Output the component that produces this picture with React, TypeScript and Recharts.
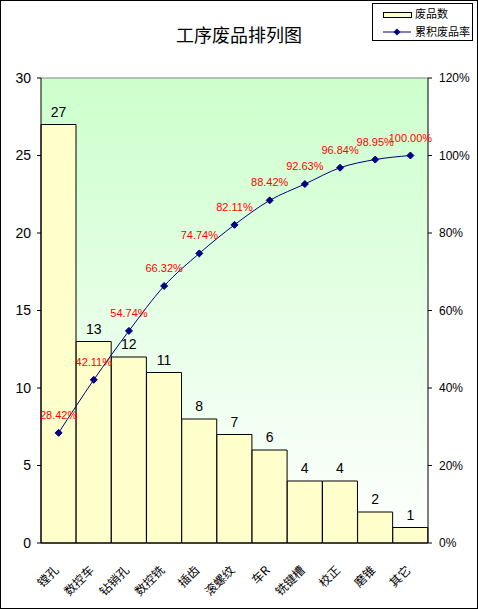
import React from "react";
import {
  ComposedChart,
  Bar,
  Line,
  XAxis,
  YAxis,
  CartesianGrid,
  LabelList,
  ReferenceLine,
} from "recharts";

const processes = ["镗孔", "数控车", "钻销孔", "数控铣", "插齿", "滚螺纹", "车R", "铣键槽", "校正", "磨锥", "其它"];
const rejects = [27, 13, 12, 11, 8, 7, 6, 4, 4, 2, 1];
const cumulativePct = [28.42, 42.11, 54.74, 66.32, 74.74, 82.11, 88.42, 92.63, 96.84, 98.95, 100.0];
const countTicks = [0, 5, 10, 15, 20, 25, 30];
const pctTicks = [0, 20, 40, 60, 80, 100, 120];

const data = processes.map((name, i) => ({ name, count: rejects[i], pct: cumulativePct[i] }));

const CJK = '"Noto Sans CJK SC", "Noto Sans", sans-serif';
const LATIN = '"Liberation Sans", Arial, sans-serif';

function Diamond(props: any) {
  const { cx, cy } = props;
  if (cx == null || cy == null) return null;
  const r = 3.5;
  return (
    <polygon
      points={`${cx},${cy - r} ${cx + r},${cy} ${cx},${cy + r} ${cx - r},${cy}`}
      fill="#000080"
      stroke="#000080"
    />
  );
}

function CategoryTick(props: any) {
  const { x, y, payload } = props;
  const tx = x + 1;
  const ty = y + 20;
  return (
    <text
      x={tx}
      y={ty}
      textAnchor="end"
      fontSize={12}
      fontFamily={CJK}
      fill="#000"
      transform={`rotate(-45, ${tx}, ${ty})`}
    >
      {payload.value}
    </text>
  );
}

export default function App() {
  return (
    <div style={{ position: "relative", width: 478, height: 609, background: "#fff" }}>
      <style>{"body{margin:0}"}</style>
      <ComposedChart
        width={478}
        height={609}
        data={data}
        margin={{ top: 78, right: 0, bottom: 0, left: 0 }}
        barCategoryGap={0}
      >
        <defs>
          <linearGradient id="plotBg" x1="0" y1="0" x2="0" y2="1">
            <stop offset="0%" stopColor="#ccffcc" />
            <stop offset="100%" stopColor="#ffffff" />
          </linearGradient>
        </defs>
        <CartesianGrid horizontal={false} vertical={false} fill="url(#plotBg)" stroke="none" />
        <XAxis
          dataKey="name"
          interval={0}
          height={66}
          tickLine={false}
          axisLine={{ stroke: "#000" }}
          tick={<CategoryTick />}
        />
        <YAxis
          yAxisId="count"
          domain={[0, 30]}
          ticks={countTicks}
          width={41}
          tickSize={4}
          tickMargin={6}
          axisLine={{ stroke: "#000" }}
          tickLine={{ stroke: "#000" }}
          tick={{ fill: "#000", fontSize: 14, fontFamily: LATIN }}
        />
        <YAxis
          yAxisId="pct"
          orientation="right"
          domain={[0, 120]}
          ticks={pctTicks}
          width={50}
          tickSize={4}
          tickMargin={7}
          axisLine={{ stroke: "#000" }}
          tickLine={{ stroke: "#000" }}
          tickFormatter={(v) => `${v}%`}
          tick={{ fill: "#000", fontSize: 12, fontFamily: LATIN }}
        />
        <ReferenceLine yAxisId="count" y={30} stroke="#808080" />
        <Bar
          yAxisId="count"
          dataKey="count"
          fill="#ffffcc"
          stroke="#000"
          strokeWidth={1}
          isAnimationActive={false}
        >
          <LabelList
            dataKey="count"
            position="top"
            offset={8}
            fill="#000"
            fontSize={14}
            fontFamily={LATIN}
          />
        </Bar>
        <Line
          yAxisId="pct"
          dataKey="pct"
          type="monotone"
          stroke="#000080"
          strokeWidth={1}
          dot={<Diamond />}
          activeDot={false}
          isAnimationActive={false}
        >
          <LabelList
            dataKey="pct"
            position="top"
            offset={14}
            fill="#ff0000"
            fontSize={11}
            fontFamily={LATIN}
            formatter={(v: any) => `${Number(v).toFixed(2)}%`}
          />
        </Line>
      </ComposedChart>

      <div
        style={{
          position: "absolute",
          left: 0,
          top: 22,
          width: 478,
          textAlign: "center",
          fontFamily: CJK,
          fontSize: 18,
          lineHeight: "24px",
          color: "#000",
        }}
      >
        工序废品排列图
      </div>

      <div
        style={{
          position: "absolute",
          left: 372,
          top: 3,
          width: 101,
          height: 38,
          border: "1px solid #000",
          background: "#fff",
          boxSizing: "border-box",
          fontFamily: CJK,
          fontSize: 11,
          color: "#000",
        }}
      >
        <div style={{ position: "absolute", left: 10, top: 8, width: 27, height: 4, background: "#ffffcc", border: "1px solid #000" }} />
        <div style={{ position: "absolute", left: 42, top: 2, lineHeight: "14px" }}>废品数</div>
        <svg style={{ position: "absolute", left: 10, top: 23 }} width={28} height={10}>
          <line x1={0} y1={5} x2={28} y2={5} stroke="#000080" strokeWidth={1} />
          <polygon points="14,1.5 17.5,5 14,8.5 10.5,5" fill="#000080" />
        </svg>
        <div style={{ position: "absolute", left: 42, top: 20, lineHeight: "14px" }}>累积废品率</div>
      </div>

      <div
        style={{
          position: "absolute",
          left: 0,
          top: 0,
          width: 478,
          height: 609,
          border: "1px solid #000",
          boxSizing: "border-box",
          pointerEvents: "none",
        }}
      />
    </div>
  );
}
